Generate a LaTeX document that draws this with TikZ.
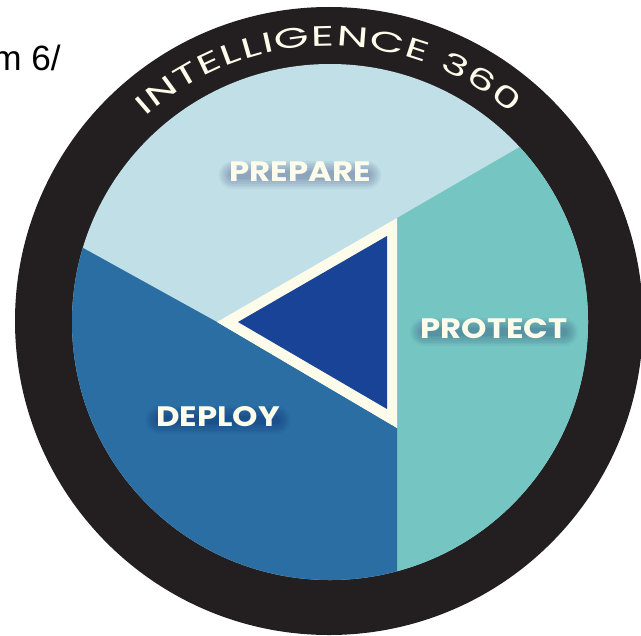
\documentclass[tikz,border=0pt]{standalone}
\usepackage{fontspec}
\setmainfont{Poppins}
\newfontfamily\arialfont{Liberation Sans}
\newfontfamily\ringfont[FakeStretch=1.6]{Poppins}
\newfontfamily\wordfont[FakeStretch=1.15]{Poppins}
\usepackage{tikz}
\usetikzlibrary{calc,positioning,decorations.text}
\pgfdeclarelayer{front}
\pgfsetlayers{main,front}
\definecolor{ringblack}{HTML}{231F20}
\definecolor{prepblue}{HTML}{C0DFE7}
\definecolor{prottea}{HTML}{75C6C2}
\definecolor{deplblue}{HTML}{2A6EA4}
\definecolor{coreblue}{HTML}{184397}
\definecolor{creamy}{HTML}{FDFCEB}
\tikzset{
  wordlabel/.style={text=creamy,inner sep=0pt,font=\wordfont\fontsize{16}{18}\selectfont\bfseries},
  glowline/.style={draw=black!70!blue,opacity=0.04,line cap=round},
}
\begin{document}
\begin{tikzpicture}[x=0.02cm,y=-0.02cm]
\useasboundingbox (0,0) rectangle (641,635);
\draw[fill=ringblack,draw=none] (329,321) circle(314);
\begin{scope}
\clip (330,322) circle(258);
\fill[prepblue] (0,0) rectangle (641,635);
\fill[prottea] (397,218) -- (580,112) -- (641,112) -- (641,635) -- (397,635) -- cycle;
\fill[deplblue] (217,322) -- (397,428) -- (397,635) -- (0,635) -- (0,202) -- cycle;
\end{scope}
% middle triangle
\coordinate (t1) at (217,322);
\coordinate (t2) at (397,218);
\coordinate (t3) at (397,428);
\fill[creamy] (t1) -- (t2) -- (t3) -- cycle;
\fill[coreblue] (238,322) -- (387,236) -- (387,409) -- cycle;
% ring text
\path[decorate,decoration={text along path,text align=fit to path,
  text={|\ringfont\fontsize{16}{18}\selectfont\color{creamy}|INTELLIGENCE 360}}]
  (330,322) ++(-132:276) arc(-132:-49:276);
% labels
\begin{pgfonlayer}{front}
\node[wordlabel] (prep) at (300,172) {PREPARE};
\node[wordlabel] (prot) at (494,329) {PROTECT};
\node[wordlabel] (depl) at (218,417) {DEPLOY};
\end{pgfonlayer}
\foreach \w in {4,6,...,16}{
  \draw[glowline,line width=\w pt] ($(prep.west)+(4,3)$) -- ($(prep.east)+(-4,3)$);
  \draw[glowline,line width=\w pt] ($(prot.west)+(4,3)$) -- ($(prot.east)+(-4,3)$);
  \draw[glowline,line width=\w pt] ($(depl.west)+(4,3)$) -- ($(depl.east)+(-4,3)$);
}
\node[anchor=base east,inner sep=0pt,font=\arialfont\fontsize{20}{22}\selectfont] (frag) at (61,71) {m 6/};
\end{tikzpicture}
\end{document}
